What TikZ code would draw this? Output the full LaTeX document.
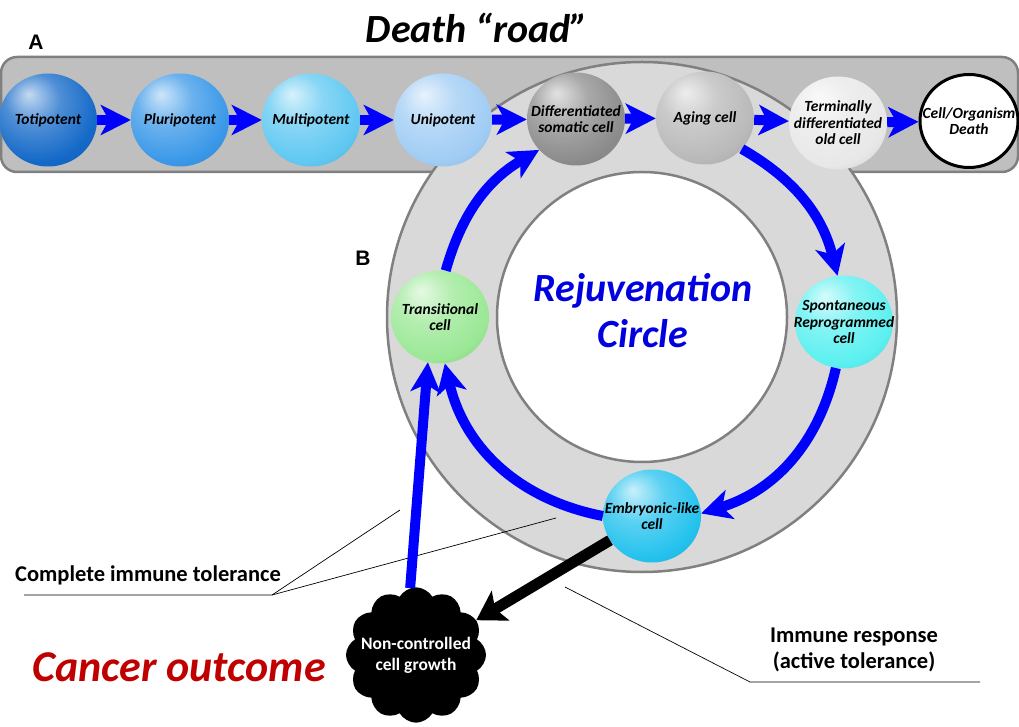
\documentclass[tikz,border=0pt]{standalone}
\usepackage{fontspec}
\setmainfont{Carlito}
\newfontfamily\arialfont{Liberation Sans}
\usetikzlibrary{shapes.geometric, shapes.symbols, arrows.meta}
\definecolor{bargray}{RGB}{191,191,191}
\definecolor{ringgray}{RGB}{217,217,217}
\definecolor{edgegray}{RGB}{128,128,128}
\definecolor{cancerred}{RGB}{192,0,0}
\definecolor{rejblue}{RGB}{0,0,225}
\definecolor{totiblue}{RGB}{20,105,200}
\definecolor{pluriblue}{RGB}{58,152,232}
\definecolor{multiblue}{RGB}{96,200,242}
\definecolor{uniblue}{RGB}{160,204,244}
\definecolor{diffgray}{RGB}{140,140,140}
\definecolor{aginggray}{RGB}{185,185,185}
\definecolor{termgray}{RGB}{232,232,232}
\definecolor{transgreen}{RGB}{155,232,150}
\definecolor{spontcyan}{RGB}{92,240,240}
\definecolor{embryocyan}{RGB}{36,194,238}
\colorlet{cellcol}{gray}
\pgfdeclareradialshading[cellcol]{cellball}{\pgfpoint{-10bp}{14bp}}{color(0bp)=(cellcol!25!white); color(14bp)=(cellcol!75!white); color(30bp)=(cellcol); color(48bp)=(cellcol!80!black); color(64bp)=(cellcol!60!black)}

\begin{document}
\begin{tikzpicture}[x=1pt, y=1pt,
    cell/.style={ellipse, minimum width=98pt, minimum height=93pt, inner sep=-16pt, align=center, font=\fontsize{15.5}{16.5}\selectfont\bfseries\itshape},
    cellcol/.code={\colorlet{cellcol}{#1}},
    sphere/.style={cell, shade, shading=cellball, cellcol=#1},
    barrow/.style={-{Stealth[length=30pt, width=30pt, inset=8pt]}, line width=10pt, blue},
    cyclearrow/.style={-{Stealth[length=30pt, width=30pt, inset=8pt]}, line width=10pt, blue},
    cancerarrow/.style={-{Stealth[length=28pt, width=34pt, inset=6pt]}, line width=11pt, black},
    leader/.style={draw=black, line width=0.7pt}
  ]
    \useasboundingbox (0,0) rectangle (1019,726);

    \draw[fill=bargray, draw=edgegray, line width=2.5pt, rounded corners=16pt] (1,554) rectangle (1018,669);
    \draw[fill=ringgray, draw=edgegray, line width=2.5pt] (642,409) circle[radius=255];
    \draw[fill=white, draw=edgegray, line width=2.5pt] (642,409) circle[radius=145];

    \coordinate (tolstart) at (24,131);
    \coordinate (tolcorner) at (272,131);
    \coordinate (tolA) at (400,216);
    \coordinate (tolB) at (556,208);
    \coordinate (respstart) at (565,139);
    \coordinate (respcorner) at (750,44);
    \coordinate (respend) at (980,44);
    \draw[leader] (tolstart) -- (tolcorner) -- (tolA);
    \draw[leader] (tolcorner) -- (tolB);
    \draw[leader] (respstart) -- (respcorner) -- (respend);

    \node[sphere=totiblue] (toti) at (48,606) {Totipotent};
    \node[sphere=pluriblue] (pluri) at (180,606) {Pluripotent};
    \node[sphere=multiblue] (multi) at (311,606) {Multipotent};
    \node[sphere=uniblue] (uni) at (443,606) {Unipotent};
    \node[sphere=diffgray] (diff) at (576,607) {Differentiated\\somatic cell};
    \node[sphere=aginggray] (aging) at (705,608) {Aging cell};
    \node[sphere=termgray] (term) at (838,603) {Terminally\\differentiated\\old cell};
    \node[cell, fill=white, draw=black, line width=3pt] (death) at (969,605) {Cell/Organism\\Death};

    \node[sphere=transgreen] (trans) at (440,409) {Transitional\\cell};
    \node[sphere=spontcyan] (spont) at (844,404) {Spontaneous\\Reprogrammed\\cell};
    \node[sphere=embryocyan] (embryo) at (652,210) {Embryonic-like\\cell};

    \node[cloud, cloud puffs=12, cloud puff arc=120, fill=black, minimum width=140pt, minimum height=124pt, inner sep=-12pt, align=center, text=white, font=\fontsize{17.5}{21}\selectfont\bfseries] (cancer) at (416,71) {Non-controlled\\cell growth};

    \node[font=\fontsize{40}{46}\selectfont\bfseries\itshape] (title) at (477,698) {Death “road”};
    \node[font=\arialfont\fontsize{21}{24}\selectfont\bfseries] (labelA) at (36,684) {A};
    \node[font=\arialfont\fontsize{21}{24}\selectfont\bfseries] (labelB) at (363,468) {B};
    \node[align=center, text=rejblue, font=\fontsize{40}{46}\selectfont\bfseries\itshape] (rejuv) at (643,415) {Rejuvenation\\Circle};
    \node[text=cancerred, font=\fontsize{44}{48}\selectfont\bfseries\itshape] (outcome) at (179,59) {Cancer outcome};
    \node[font=\fontsize{22.5}{25}\selectfont\bfseries] (tolerance) at (148,151) {Complete immune tolerance};
    \node[align=center, font=\fontsize{22.5}{26}\selectfont\bfseries] (response) at (854,76) {Immune response\\(active tolerance)};

    \foreach \a/\b in {toti/pluri, pluri/multi, multi/uni, uni/diff, diff/aging, aging/term, term/death}
      \draw[barrow] (\a) -- (\b);

    \draw[cyclearrow] (aging.-40) to[bend left=23] (spont.98);
    \draw[cyclearrow] (spont.-100) to[bend left=30] (embryo.3);
    \draw[cyclearrow] (embryo.west) to[bend left=33] (trans.-84);
    \draw[cyclearrow] (trans.83) to[bend left=22] (diff.220);
    \draw[cyclearrow] (cancer.95) -- (trans.-105);
    \draw[cancerarrow] (embryo.210) -- (cancer.30);
\end{tikzpicture}
\end{document}
